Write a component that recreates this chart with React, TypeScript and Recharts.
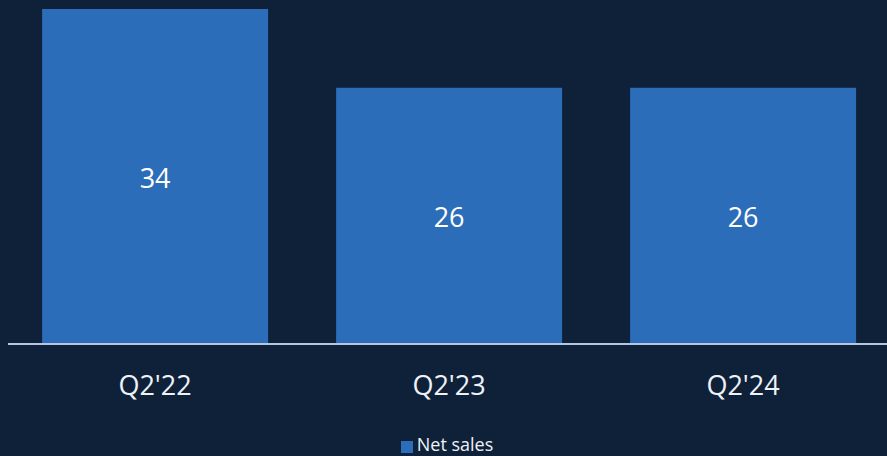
import React from "react";
import { BarChart, Bar, XAxis, YAxis, Legend, LabelList } from "recharts";

const categories = ["Q2'22", "Q2'23", "Q2'24"];
const netSales = [34, 26, 26];
const seriesName = "Net sales";

const data = categories.map((c, i) => ({ name: c, value: netSales[i] }));

const BG = "#0e2139";
const BAR = "#2c6dba";
const FONT = "'Open Sans', 'Noto Sans', sans-serif";

export default function App() {
  return (
    <div
      style={{
        position: "fixed",
        left: 0,
        top: 0,
        width: 887,
        height: 456,
        background: BG,
        overflow: "hidden",
      }}
    >
      <div style={{ position: "absolute", left: 8, top: 8 }}>
        <BarChart
          width={882}
          height={448}
          data={data}
          margin={{ top: 1, right: 0, left: 0, bottom: 0 }}
          barCategoryGap="11.6%"
          style={{ fontFamily: FONT }}
        >
          <YAxis hide domain={[0, 34]} />
          <XAxis
            dataKey="name"
            height={84}
            tickLine={false}
            axisLine={{ stroke: "#b4c7e2", strokeWidth: 2 }}
            tickMargin={26}
            tick={{ fill: "#eef2f7", fontSize: 27, fontFamily: FONT }}
          />
          <Legend
            verticalAlign="bottom"
            height={28}
            iconType="square"
            iconSize={12}
            wrapperStyle={{ bottom: -7, left: 3, lineHeight: "18px" }}
            formatter={(v) => <span style={{ color: "#eef2f7", fontSize: 18, lineHeight: "18px" }}>{v}</span>}
          />
          <Bar dataKey="value" name={seriesName} fill={BAR} isAnimationActive={false}>
            <LabelList dataKey="value" position="center" fill="#ffffff" fontSize={27} fontFamily={FONT} dy={2} />
          </Bar>
        </BarChart>
      </div>
    </div>
  );
}
